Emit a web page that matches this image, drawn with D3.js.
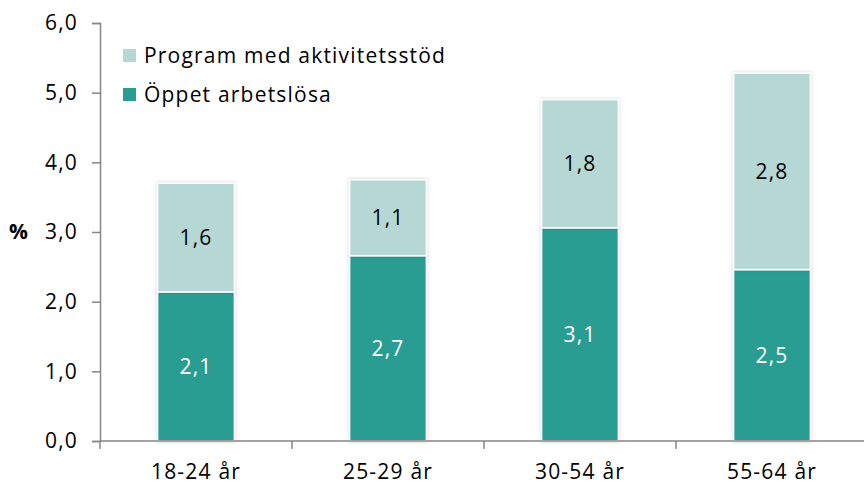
<!DOCTYPE html>
<html>
<head>
<meta charset="utf-8">
<script src="https://cdn.jsdelivr.net/npm/d3@7"></script>
<style>
  body { margin: 0; background: #fff; }
  text { font-family: 'Open Sans', sans-serif; letter-spacing: 1.2px; }
</style>
</head>
<body>
<svg id="chart"></svg>
<script>
// Data
const categories = ['18-24 år', '25-29 år', '30-54 år', '55-64 år']
const openUnemployed = [2.14, 2.66, 3.06, 2.46]    // Öppet arbetslösa
const programSupport = [1.56, 1.09, 1.84, 2.82]    // Program med aktivitetsstöd
const yTicks = [0, 1, 2, 3, 4, 5, 6]
const seriesNames = ['Program med aktivitetsstöd', 'Öppet arbetslösa']

const width = 864
const height = 486
const margin = { top: 23, right: -4, bottom: 45, left: 100 }
const colors = { open: '#2a9d93', program: '#b6d8d5' }
const axisColor = '#868686'
const fontSize = 21

const fmt = v => d3.format('.1f')(v).replace('.', ',')

const svg = d3.select('#chart')
  .attr('width', width)
  .attr('height', height)

// soft shadow on the bars
const defs = svg.append('defs')
const shadow = defs.append('filter').attr('id', 'shadow')
  .attr('x', '-20%').attr('y', '-20%').attr('width', '140%').attr('height', '140%')
shadow.append('feDropShadow')
  .attr('dx', 0).attr('dy', 0).attr('stdDeviation', 1.5)
  .attr('flood-color', '#000').attr('flood-opacity', 0.25)

const x = d3.scaleBand()
  .domain(categories)
  .range([margin.left, width - margin.right])
  .paddingInner(0.6)
  .paddingOuter(0.3)

const y = d3.scaleLinear()
  .domain([0, 6])
  .range([height - margin.bottom, margin.top])

const rows = categories.map((c, i) => ({
  cat: c,
  open: openUnemployed[i],
  program: programSupport[i]
}))

// Bars: bottom segment then top segment
const bars = svg.append('g').attr('class', 'bars')

bars.selectAll('rect.open')
  .data(rows)
  .enter()
    .append('rect')
    .attr('class', 'open')
    .attr('x', d => x(d.cat))
    .attr('y', d => y(d.open))
    .attr('width', x.bandwidth())
    .attr('height', d => y(0) - y(d.open))
    .attr('fill', colors.open)
    .attr('stroke', '#fff')
    .attr('stroke-width', 1.5)
    .attr('filter', 'url(#shadow)')

bars.selectAll('rect.program')
  .data(rows)
  .enter()
    .append('rect')
    .attr('class', 'program')
    .attr('x', d => x(d.cat))
    .attr('y', d => y(d.open + d.program))
    .attr('width', x.bandwidth())
    .attr('height', d => y(d.open) - y(d.open + d.program))
    .attr('fill', colors.program)
    .attr('stroke', '#fff')
    .attr('stroke-width', 1.5)
    .attr('filter', 'url(#shadow)')

// Value labels
const labels = svg.append('g').attr('class', 'labels')
  .attr('text-anchor', 'middle')
  .attr('font-size', fontSize)

labels.selectAll('text.open')
  .data(rows)
  .enter()
    .append('text')
    .attr('x', d => x(d.cat) + x.bandwidth() / 2)
    .attr('y', d => (y(0) + y(d.open)) / 2)
    .attr('dy', '0.35em')
    .attr('fill', '#fff')
    .text(d => fmt(d.open))

labels.selectAll('text.program')
  .data(rows)
  .enter()
    .append('text')
    .attr('x', d => x(d.cat) + x.bandwidth() / 2)
    .attr('y', d => (y(d.open) + y(d.open + d.program)) / 2)
    .attr('dy', '0.35em')
    .attr('fill', '#000')
    .text(d => fmt(d.program))

// Y axis
const yAxis = svg.append('g')
  .attr('transform', `translate(${margin.left}, 0)`)
  .call(d3.axisLeft(y).tickValues(yTicks).tickFormat(fmt).tickSize(8).tickPadding(14))
yAxis.select('.domain').attr('stroke', axisColor).attr('stroke-width', 1.5)
yAxis.selectAll('.tick line').attr('stroke', axisColor).attr('stroke-width', 1.5)
yAxis.selectAll('.tick text')
  .attr('font-size', fontSize)
  .attr('font-family', "'Open Sans', sans-serif")
  .attr('fill', '#000')

// X axis, ticks on the category boundaries
const halfGap = (x.step() - x.bandwidth()) / 2
const xAxisG = svg.append('g')
  .attr('transform', `translate(0, ${y(0)})`)
xAxisG.append('line')
  .attr('x1', margin.left).attr('x2', width)
  .attr('stroke', axisColor).attr('stroke-width', 1.5)
xAxisG.selectAll('line.tick')
  .data(categories)
  .enter()
    .append('line')
    .attr('class', 'tick')
    .attr('x1', d => x(d) - halfGap)
    .attr('x2', d => x(d) - halfGap)
    .attr('y1', 0).attr('y2', 8)
    .attr('stroke', axisColor).attr('stroke-width', 1.5)
xAxisG.selectAll('text')
  .data(categories)
  .enter()
    .append('text')
    .attr('x', d => x(d) + x.bandwidth() / 2)
    .attr('y', 38)
    .attr('text-anchor', 'middle')
    .attr('font-size', fontSize)
    .attr('fill', '#000')
    .text(d => d)

// "%" axis title
svg.append('text')
  .attr('x', 19)
  .attr('y', y(3))
  .attr('dy', '0.35em')
  .attr('text-anchor', 'middle')
  .attr('font-size', fontSize)
  .attr('font-weight', 'bold')
  .text('%')

// Legend
const legendColors = [colors.program, colors.open]
const legend = svg.append('g').attr('class', 'legend')
  .selectAll('g')
  .data(seriesNames)
  .enter()
    .append('g')
    .attr('transform', (d, i) => `translate(123, ${49 + i * 39})`)
legend.append('rect')
  .attr('width', 13).attr('height', 13)
  .attr('fill', (d, i) => legendColors[i])
legend.append('text')
  .attr('x', 21)
  .attr('y', 6.5)
  .attr('dy', '0.35em')
  .attr('font-size', fontSize)
  .attr('fill', '#000')
  .text(d => d)
</script>
</body>
</html>
